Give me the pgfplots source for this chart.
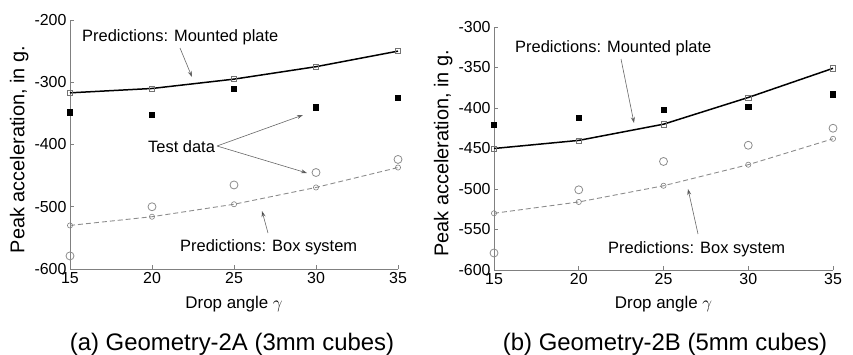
\documentclass[border=0pt]{standalone}
\usepackage{fontspec}
\setmainfont{Liberation Sans}
\usepackage{pgfplots}
\pgfplotsset{compat=1.18}
\usetikzlibrary{arrows.meta}

\newcommand{\lblfont}{\fontsize{16.5}{19}\selectfont}
\newcommand{\tickfont}{\fontsize{16}{19}\selectfont}
\newcommand{\xlfont}{\fontsize{17}{20}\selectfont}
\newcommand{\ylfont}{\fontsize{20}{23}\selectfont}
\pgfplotsset{
  panel/.style={
    scale only axis,
    axis lines=left,
    axis line style={-, black!50, line width=0.8pt},
    tick align=inside,
    major tick length=4bp,
    tick style={black!50, line width=0.6pt},
    xmin=15, xmax=35,
    xtick={15,20,25,30,35},
    tick label style={font=\tickfont},
    xlabel style={font=\xlfont},
    ylabel style={font=\ylfont},
    /pgf/number format/assume math mode=true,
    xlabel={Drop angle $\gamma$},
    ylabel={Peak acceleration, in g.},
    clip=false,
  },
  predplate/.style={black, line width=1.5pt, mark=square, mark size=2.6bp,
    mark options={solid, draw=black!55, line width=0.6pt, fill=none}},
  testplate/.style={only marks, mark=square*, mark size=2.6bp,
    mark options={draw=black, fill=black}},
  predbox/.style={black!45, line width=0.9pt, dash pattern=on 5bp off 3bp, mark=o, mark size=2.6bp,
    mark options={solid, draw=black!50, line width=0.6pt}},
  testbox/.style={only marks, mark=o, mark size=4bp,
    mark options={draw=black!45, line width=0.8pt}},
}

\begin{document}
\begin{tikzpicture}[x=1bp,y=1bp]
\path[use as bounding box] (0,0) rectangle (853,354);

% ---------- Panel (a)
\begin{axis}[panel,
  at={(70bp,85bp)}, anchor=south west,
  width=328bp, height=249bp,
  ymin=-600, ymax=-200, ytick={-600,-500,-400,-300,-200},
  ylabel style={at={(axis description cs:-0.155,0.48)}, anchor=center},
  xlabel style={at={(axis description cs:0.5,-0.14)}, anchor=center},
]
\addplot[predbox] coordinates {(15,-530) (20,-516) (25,-496) (30,-469) (35,-437)};
\addplot[testbox] coordinates {(15,-579) (20,-500) (25,-465) (30,-445) (35,-424)};
\addplot[predplate] coordinates {(15,-317) (20,-310) (25,-295) (30,-275) (35,-250)};
\addplot[testplate] coordinates {(15,-348) (20,-352) (25,-310) (30,-340) (35,-325)};
\end{axis}

% ---------- Panel (b)
\begin{axis}[panel,
  at={(494bp,84bp)}, anchor=south west,
  width=339bp, height=243bp,
  ymin=-600, ymax=-300, ytick={-600,-550,-500,-450,-400,-350,-300},
  ylabel style={at={(axis description cs:-0.150,0.48)}, anchor=center},
  xlabel style={at={(axis description cs:0.5,-0.14)}, anchor=center},
]
\addplot[predbox] coordinates {(15,-530) (20,-516) (25,-496) (30,-470) (35,-438)};
\addplot[testbox] coordinates {(15,-579) (20,-501) (25,-466) (30,-446) (35,-425)};
\addplot[predplate] coordinates {(15,-450) (20,-440) (25,-420) (30,-387) (35,-351)};
\addplot[testplate] coordinates {(15,-421) (20,-412) (25,-402) (30,-398) (35,-383)};
\end{axis}

% ---------- Annotations
\tikzset{ann/.style={draw=black!60, line width=0.6pt, -{Stealth[length=6bp,width=4bp,fill=black]}}}
\node[anchor=base west, inner sep=0, font=\lblfont] at (82,312.3) {Predictions: Mounted plate};
\draw[ann] (180,306) -- (192,277);
\node[anchor=base west, inner sep=0, font=\lblfont] at (148,201.7) {Test data};
\draw[ann] (217,208) -- (303,239);
\draw[ann] (217,208) -- (307,181);
\node[anchor=base west, inner sep=0, font=\lblfont] at (180,102.3) {Predictions: Box system};
\draw[ann] (268,121) -- (262,143);

\node[anchor=base west, inner sep=0, font=\lblfont] at (515,301.7) {Predictions: Mounted plate};
\draw[ann] (621,295) -- (634,231);
\node[anchor=base west, inner sep=0, font=\lblfont] at (608,101) {Predictions: Box system};
\draw[ann] (698,120) -- (688,165);

% ---------- Captions
\node[anchor=base, inner sep=0, font=\fontsize{24}{28}\selectfont] at (232,4) {(a) Geometry-2A (3mm cubes)};
\node[anchor=base, inner sep=0, font=\fontsize{24}{28}\selectfont] at (665,4) {(b) Geometry-2B (5mm cubes)};
\end{tikzpicture}
\end{document}
